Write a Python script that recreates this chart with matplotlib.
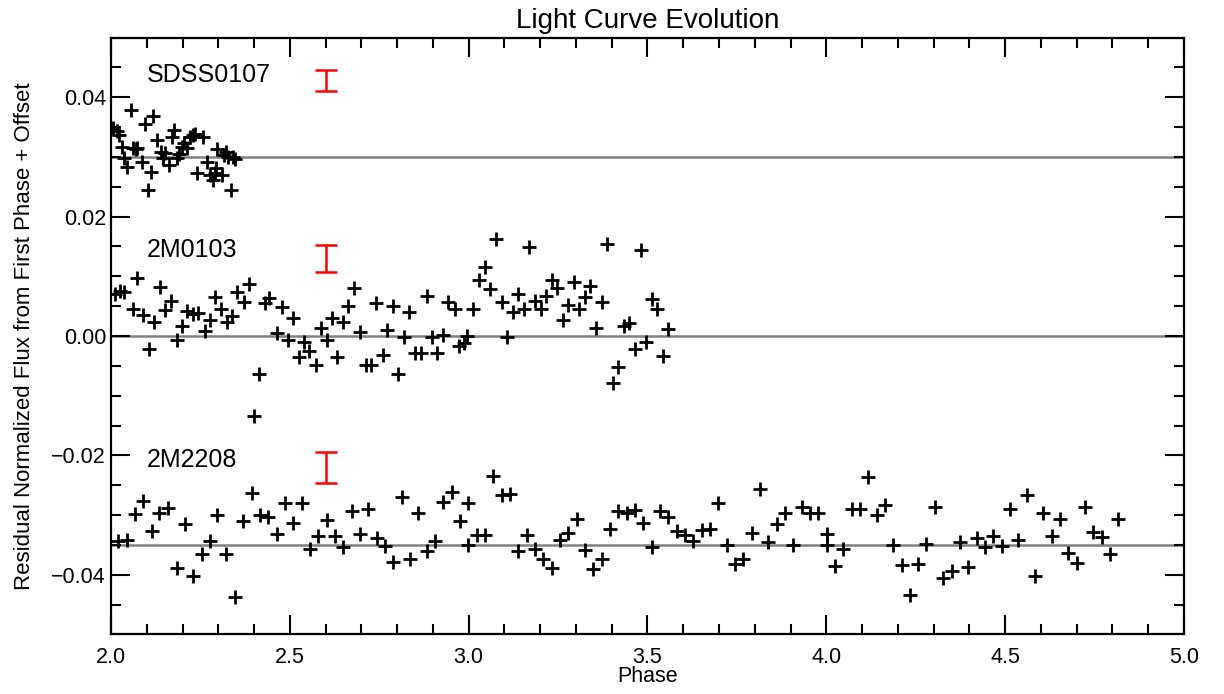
import numpy as np
import matplotlib
matplotlib.use("Agg")
import matplotlib.pyplot as plt

plt.rcParams['font.family'] = ['Liberation Sans', 'DejaVu Sans']

# (phase, residual flux)
sdss0107 = np.array([
    (2.006, 0.0348), (2.018, 0.0344), (2.022, 0.0337), (2.030, 0.0316), (2.036, 0.0298),
    (2.044, 0.0284), (2.055, 0.0379), (2.062, 0.0315), (2.070, 0.0313), (2.074, 0.0315),
    (2.086, 0.0292), (2.095, 0.0355), (2.104, 0.0244), (2.111, 0.0275), (2.118, 0.0369),
    (2.128, 0.0328), (2.139, 0.0309), (2.146, 0.0299), (2.151, 0.0306), (2.163, 0.0287),
    (2.170, 0.0334), (2.176, 0.0346), (2.184, 0.0298), (2.191, 0.0305), (2.198, 0.0317),
    (2.204, 0.0324), (2.213, 0.0315), (2.221, 0.0333), (2.230, 0.0337), (2.235, 0.0339),
    (2.241, 0.0273), (2.258, 0.0333), (2.269, 0.0292), (2.277, 0.0270), (2.284, 0.0261),
    (2.291, 0.0273), (2.294, 0.0281), (2.297, 0.0313), (2.309, 0.0270), (2.316, 0.0303),
    (2.321, 0.0309), (2.328, 0.0300), (2.335, 0.0244), (2.342, 0.0300), (2.347, 0.0296),
])

m0103 = np.array([
    (2.011, 0.0070), (2.025, 0.0076), (2.036, 0.0074), (2.061, 0.0046), (2.074, 0.0098),
    (2.089, 0.0035), (2.107, -0.0021), (2.120, 0.0024), (2.137, 0.0082), (2.151, 0.0044),
    (2.167, 0.0059), (2.184, -0.0007), (2.198, 0.0017), (2.213, 0.0042), (2.230, 0.0037),
    (2.244, 0.0038), (2.263, 0.0008), (2.277, 0.0026), (2.291, 0.0065), (2.307, 0.0046),
    (2.323, 0.0024), (2.337, 0.0034), (2.351, 0.0074), (2.372, 0.0057), (2.387, 0.0087),
    (2.400, -0.0134), (2.415, -0.0064), (2.431, 0.0056), (2.442, 0.0064), (2.463, 0.0005),
    (2.477, 0.0049), (2.496, -0.0006), (2.508, 0.0030), (2.526, -0.0036), (2.540, -0.0010),
    (2.554, -0.0025), (2.573, -0.0049), (2.586, 0.0013), (2.605, -0.0006), (2.617, 0.0030),
    (2.633, -0.0036), (2.648, 0.0024), (2.663, 0.0050), (2.679, 0.0080), (2.696, 0.0007),
    (2.713, -0.0049), (2.726, -0.0049), (2.741, 0.0055), (2.760, -0.0032), (2.772, 0.0010),
    (2.789, 0.0050), (2.803, -0.0063), (2.819, -0.0001), (2.834, 0.0041), (2.850, -0.0029),
    (2.866, -0.0029), (2.883, 0.0067), (2.897, -0.0002), (2.912, -0.0029), (2.927, 0.0002),
    (2.943, 0.0057), (2.962, 0.0046), (2.974, -0.0017), (2.987, -0.0011), (2.996, 0.0000),
    (3.013, 0.0046), (3.030, 0.0094), (3.046, 0.0115), (3.060, 0.0078), (3.076, 0.0162),
    (3.092, 0.0057), (3.106, -0.0001), (3.123, 0.0041), (3.139, 0.0070), (3.155, 0.0045),
    (3.169, 0.0149), (3.185, 0.0059), (3.201, 0.0045), (3.216, 0.0067), (3.232, 0.0094),
    (3.248, 0.0080), (3.263, 0.0027), (3.278, 0.0052), (3.294, 0.0091), (3.309, 0.0046),
    (3.325, 0.0065), (3.339, 0.0083), (3.356, 0.0013), (3.372, 0.0057), (3.387, 0.0154),
    (3.403, -0.0078), (3.418, -0.0052), (3.434, 0.0017), (3.449, 0.0022), (3.465, -0.0022),
    (3.481, 0.0144), (3.496, -0.0010), (3.512, 0.0062), (3.526, 0.0046), (3.542, -0.0034),
    (3.558, 0.0011),
])

m2208 = np.array([
    (2.020, -0.0343), (2.044, -0.0342), (2.067, -0.0298), (2.089, -0.0276), (2.114, -0.0327),
    (2.135, -0.0296), (2.160, -0.0289), (2.184, -0.0388), (2.207, -0.0315), (2.230, -0.0402),
    (2.254, -0.0365), (2.277, -0.0343), (2.297, -0.0300), (2.321, -0.0365), (2.347, -0.0438),
    (2.370, -0.0310), (2.393, -0.0263), (2.417, -0.0300), (2.440, -0.0303), (2.463, -0.0331),
    (2.486, -0.0280), (2.510, -0.0313), (2.533, -0.0280), (2.556, -0.0357), (2.580, -0.0335),
    (2.603, -0.0308), (2.626, -0.0335), (2.649, -0.0354), (2.673, -0.0293), (2.696, -0.0332),
    (2.719, -0.0290), (2.743, -0.0339), (2.766, -0.0352), (2.789, -0.0378), (2.813, -0.0270),
    (2.836, -0.0374), (2.859, -0.0297), (2.883, -0.0360), (2.906, -0.0343), (2.927, -0.0278),
    (2.952, -0.0261), (2.976, -0.0310), (2.999, -0.0280), (2.999, -0.0350), (3.022, -0.0334),
    (3.046, -0.0334), (3.069, -0.0235), (3.092, -0.0266), (3.115, -0.0264), (3.139, -0.0361),
    (3.162, -0.0334), (3.185, -0.0357), (3.209, -0.0374), (3.232, -0.0389), (3.255, -0.0342),
    (3.278, -0.0330), (3.302, -0.0307), (3.325, -0.0359), (3.348, -0.0391), (3.372, -0.0373),
    (3.395, -0.0324), (3.418, -0.0294), (3.442, -0.0296), (3.465, -0.0292), (3.488, -0.0313),
    (3.512, -0.0353), (3.535, -0.0294), (3.558, -0.0303), (3.582, -0.0326), (3.605, -0.0334),
    (3.628, -0.0343), (3.651, -0.0325), (3.675, -0.0324), (3.698, -0.0280), (3.721, -0.0350),
    (3.745, -0.0382), (3.768, -0.0373), (3.791, -0.0330), (3.814, -0.0257), (3.838, -0.0345),
    (3.861, -0.0315), (3.884, -0.0297), (3.907, -0.0350), (3.931, -0.0287), (3.954, -0.0297),
    (3.977, -0.0296), (4.001, -0.0331), (4.001, -0.0350), (4.024, -0.0385), (4.047, -0.0357),
    (4.071, -0.0290), (4.094, -0.0290), (4.117, -0.0237), (4.141, -0.0300), (4.164, -0.0283),
    (4.187, -0.0350), (4.211, -0.0384), (4.234, -0.0434), (4.257, -0.0382), (4.280, -0.0349),
    (4.304, -0.0286), (4.327, -0.0406), (4.350, -0.0393), (4.373, -0.0345), (4.397, -0.0387),
    (4.420, -0.0339), (4.443, -0.0353), (4.467, -0.0335), (4.490, -0.0352), (4.513, -0.0290),
    (4.536, -0.0342), (4.560, -0.0266), (4.583, -0.0402), (4.606, -0.0297), (4.630, -0.0335),
    (4.653, -0.0306), (4.676, -0.0364), (4.700, -0.0381), (4.723, -0.0286), (4.746, -0.0328),
    (4.770, -0.0337), (4.793, -0.0365), (4.816, -0.0307),
])

names = ["SDSS0107", "2M0103", "2M2208"]
offsets = [0.03, 0.0, -0.035]
label_y = [0.0437, 0.0144, -0.0208]
err_center = [0.0428, 0.0130, -0.0220]
err_size = [0.0017, 0.0022, 0.0026]
err_phase = 2.6

fig = plt.figure(figsize=(12.24, 6.94), dpi=100)
ax = fig.add_axes([0.0907, 0.0859, 0.8766, 0.8599])

for off in offsets:
    ax.axhline(off, color='#808080', lw=1.8, zorder=1)

for data in (sdss0107, m0103, m2208):
    ax.plot(data[:, 0], data[:, 1], ls='none', marker='+', ms=10, mew=2.0,
            color='black', zorder=3)

for name, ly, ec, es in zip(names, label_y, err_center, err_size):
    ax.text(2.1, ly, name, fontsize=18, ha='left', va='center')
    ax.errorbar([err_phase], [ec], yerr=[es], fmt='none', ecolor='red',
                elinewidth=1.8, capsize=8, capthick=1.8)

ax.set_xlim(2.0, 5.0)
ax.set_ylim(-0.05, 0.05)
ax.set_xticks(np.arange(2.0, 5.01, 0.5))
ax.set_xticks(np.arange(2.0, 5.01, 0.1), minor=True)
ax.set_yticks([-0.04, -0.02, 0.0, 0.02, 0.04])
ax.set_yticks(np.arange(-0.05, 0.0501, 0.005), minor=True)
ax.set_xticklabels(["2.0", "2.5", "3.0", "3.5", "4.0", "4.5", "5.0"])
ax.set_yticklabels(["\u22120.04", "\u22120.02", "0.00", "0.02", "0.04"])
ax.tick_params(which='both', direction='in', top=True, right=True, width=1.5,
               labelsize=15.5)
ax.tick_params(which='major', length=14)
ax.tick_params(which='minor', length=7)
ax.tick_params(axis='x', pad=9)
for s in ax.spines.values():
    s.set_linewidth(1.6)

ax.set_title("Light Curve Evolution", fontsize=20, pad=7)
ax.set_xlabel("Phase", fontsize=15.5, labelpad=-1)
ax.set_ylabel("Residual Normalized Flux from First Phase + Offset", fontsize=16,
              labelpad=12)

fig.savefig("out.png", dpi=100)
